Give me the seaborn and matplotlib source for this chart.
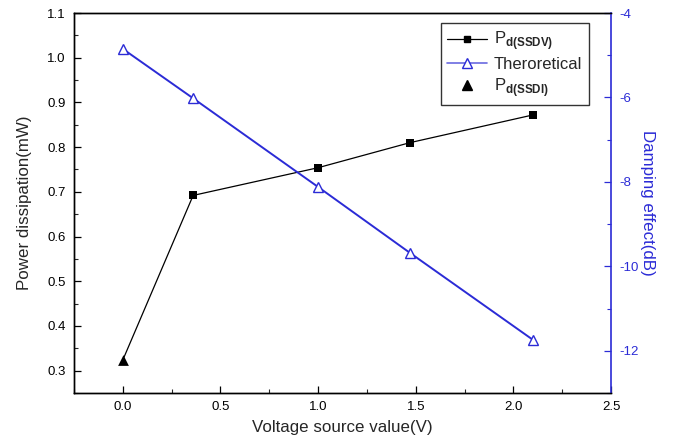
import matplotlib
matplotlib.use("Agg")
import matplotlib.pyplot as plt
import seaborn as sns
import pandas as pd
from matplotlib.lines import Line2D
from matplotlib.ticker import MultipleLocator

# Data
ssdv_x = [0.36, 1.0, 1.47, 2.1]
ssdv_y = [0.692, 0.754, 0.810, 0.872]
ssdi_x = [0.0]
ssdi_y = [0.324]
theo_x = [0.0, 0.36, 1.0, 1.47, 2.1]
theo_y = [-4.85, -6.02, -8.12, -9.68, -11.74]

sns.set_style("ticks")
plt.rcParams['font.family'] = ['Liberation Sans', 'DejaVu Sans']
plt.rcParams['mathtext.fontset'] = 'custom'
plt.rcParams['mathtext.rm'] = 'Liberation Sans'
plt.rcParams['mathtext.bf'] = 'Liberation Sans:bold'

BLUE = '#2b2bd6'

fig = plt.figure(figsize=(6.88, 4.46), dpi=100)
ax = fig.add_axes([0.1076, 0.1188, 0.7805, 0.852])
ax2 = ax.twinx()

line_df = pd.DataFrame({"x": ssdi_x + ssdv_x, "y": ssdi_y + ssdv_y})
sns.lineplot(data=line_df, x="x", y="y", ax=ax, color='black', lw=0.9,
             sort=False, estimator=None)
sq_df = pd.DataFrame({"x": ssdv_x, "y": ssdv_y})
sns.scatterplot(data=sq_df, x="x", y="y", ax=ax, marker='s', color='black',
                s=36, edgecolor='black', linewidth=0, zorder=5)
tri_df = pd.DataFrame({"x": ssdi_x, "y": ssdi_y})
sns.scatterplot(data=tri_df, x="x", y="y", ax=ax, marker='^', color='black',
                s=60, edgecolor='black', linewidth=0, zorder=5)

theo_df = pd.DataFrame({"x": theo_x, "y": theo_y})
sns.lineplot(data=theo_df, x="x", y="y", ax=ax2, color=BLUE, lw=1.4,
             sort=False, estimator=None)
ax2.plot(theo_df["x"], theo_df["y"], ls='none', marker='^', ms=7.5,
         mfc='white', mec=BLUE, mew=1.0, zorder=6)

ax.set_xlim(-0.25, 2.5)
ax.set_ylim(0.25, 1.1)
ax2.set_ylim(-13, -4)

ax.xaxis.set_major_locator(MultipleLocator(0.5))
ax.xaxis.set_minor_locator(MultipleLocator(0.25))
ax.yaxis.set_major_locator(MultipleLocator(0.1))
ax.yaxis.set_minor_locator(MultipleLocator(0.05))
ax2.yaxis.set_major_locator(MultipleLocator(2))
ax2.yaxis.set_minor_locator(MultipleLocator(1))
ax.xaxis.set_major_formatter(plt.FormatStrFormatter('%.1f'))
ax.yaxis.set_major_formatter(plt.FormatStrFormatter('%.1f'))
ax2.yaxis.set_major_formatter(plt.FuncFormatter(lambda v, p: '%d' % v))

ax.tick_params(axis='both', which='major', direction='in', length=5, width=0.9,
               labelsize=9.5, colors='black', pad=6)
ax.tick_params(axis='both', which='minor', direction='in', length=3, width=0.8)
ax.tick_params(axis='x', which='both', top=False)
ax.tick_params(axis='y', which='both', right=False)
ax2.tick_params(axis='y', which='major', direction='in', length=5, width=0.9,
                labelsize=9.5, colors=BLUE, pad=6)
ax2.tick_params(axis='y', which='minor', direction='in', length=3, width=0.8,
                colors=BLUE)

for s in ['left', 'bottom', 'top']:
    ax.spines[s].set_color('black')
    ax.spines[s].set_linewidth(1.0)
    ax2.spines[s].set_color('black')
    ax2.spines[s].set_linewidth(1.0)
ax2.spines['right'].set_color(BLUE)
ax2.spines['right'].set_linewidth(1.2)
ax.spines['right'].set_visible(False)

ax.set_xlabel('Voltage source value(V)', fontsize=12.2, labelpad=5)
ax.set_ylabel('Power dissipation(mW)', fontsize=12.2, labelpad=11)
ax2.set_ylabel('Damping effect(dB)', fontsize=12.2, color=BLUE,
               rotation=270, labelpad=12)

handles = [
    Line2D([], [], color='black', lw=0.9, marker='s', ms=5),
    Line2D([], [], color='#6a6ae0', lw=1.2, marker='^', ms=6.5, mfc='white', mec=BLUE),
    Line2D([], [], color='black', ls='none', marker='^', ms=7),
]
labels = [r'P$_{\mathbf{d(SSDV)}}$', 'Theroretical', r'P$_{\mathbf{d(SSDI)}}$']
leg = ax2.legend(handles, labels, loc='upper left',
                 bbox_to_anchor=(0.683, 0.974), frameon=True, fancybox=False,
                 edgecolor='black', fontsize=12, handlelength=2.4,
                 handletextpad=0.4, borderpad=0.4, labelspacing=0.25,
                 borderaxespad=0)
leg.get_frame().set_linewidth(1.0)

fig.savefig('out.png', dpi=100)
